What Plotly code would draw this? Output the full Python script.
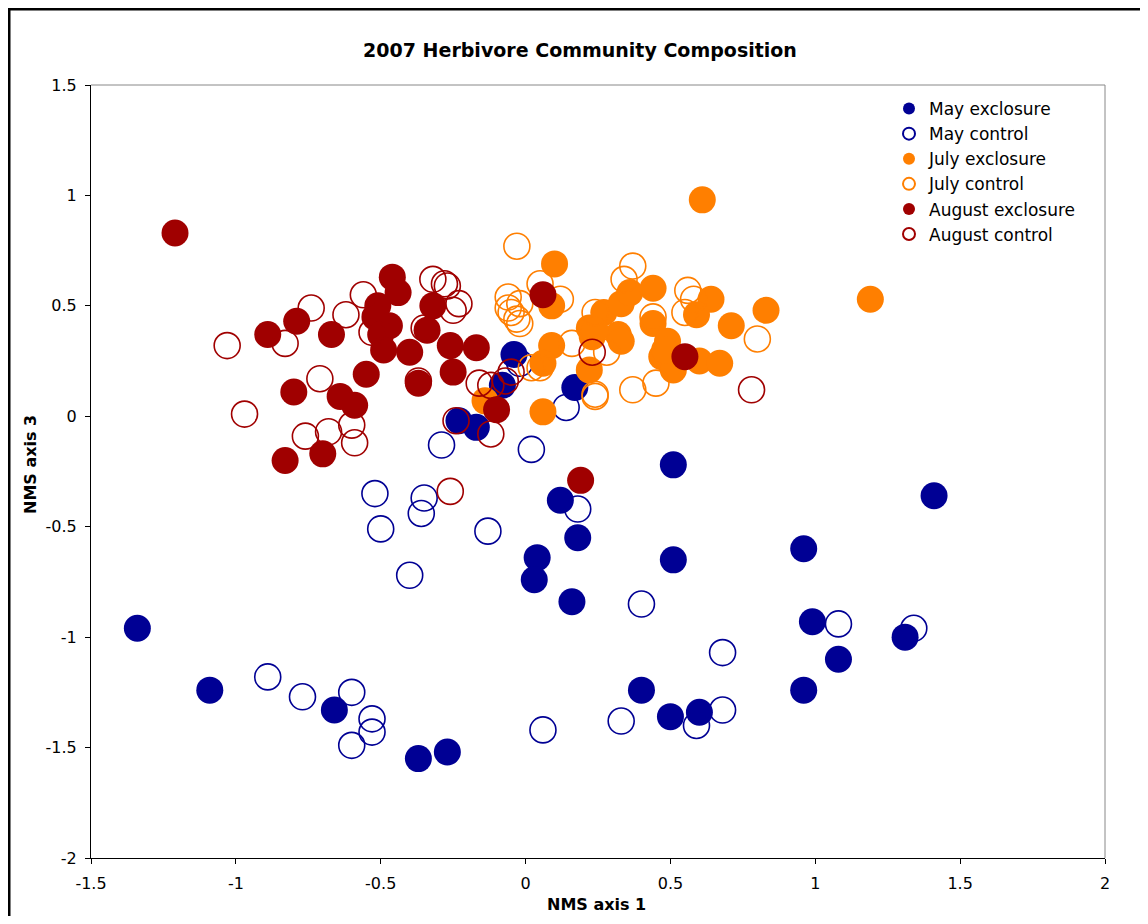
import plotly.graph_objects as go

# ---- data (NMS axis 1, NMS axis 3) ----
may_excl_x = [-1.34, -1.09, -0.66, -0.37, -0.27, -0.23, -0.17, -0.08, -0.04, 0.17, 0.12, 0.18, 0.04,
              0.03, 0.16, 0.51, 0.51, 0.96, 1.41, 0.99, 1.08, 1.31, 0.96, 0.40, 0.50, 0.60]
may_excl_y = [-0.96, -1.24, -1.33, -1.55, -1.52, -0.02, -0.05, 0.14, 0.28, 0.13, -0.38, -0.55, -0.64,
              -0.74, -0.84, -0.22, -0.65, -0.60, -0.36, -0.93, -1.10, -1.00, -1.24, -1.24, -1.36, -1.34]

may_ctrl_x = [-0.89, -0.77, -0.60, -0.53, -0.53, -0.60, -0.52, -0.35, -0.36, -0.50, -0.40, -0.13, -0.29,
              0.02, 0.14, -0.02, 0.18, 0.40, 0.68, 1.08, 1.34, 0.68, 0.59, 0.33, 0.06]
may_ctrl_y = [-1.18, -1.27, -1.25, -1.37, -1.43, -1.49, -0.35, -0.37, -0.44, -0.51, -0.72, -0.52, -0.13,
              -0.15, 0.04, 0.24, -0.42, -0.85, -1.07, -0.94, -0.96, -1.33, -1.40, -1.38, -1.42]

jul_excl_x = [0.61, 1.19, 0.10, 0.09, 0.09, 0.06, 0.06, -0.14, 0.22, 0.22, 0.27, 0.33, 0.36, 0.44,
              0.32, 0.23, 0.44, 0.49, 0.47, 0.51, 0.60, 0.67, 0.64, 0.59, 0.71, 0.83, 0.48, 0.24, 0.33]
jul_excl_y = [0.98, 0.53, 0.69, 0.50, 0.32, 0.24, 0.02, 0.07, 0.21, 0.40, 0.47, 0.51, 0.56, 0.58,
              0.37, 0.36, 0.42, 0.34, 0.27, 0.21, 0.25, 0.24, 0.53, 0.46, 0.41, 0.48, 0.30, 0.39, 0.34]

jul_ctrl_x = [-0.03, -0.06, -0.06, -0.05, -0.03, 0.05, 0.12, -0.02, 0.24, 0.16, 0.44, 0.56, 0.58,
              0.55, 0.80, 0.37, 0.45, 0.24, 0.37, 0.34, 0.05, 0.02, 0.24, 0.28, -0.02]
jul_ctrl_y = [0.77, 0.54, 0.49, 0.47, 0.44, 0.60, 0.53, 0.51, 0.47, 0.33, 0.45, 0.57, 0.53,
              0.47, 0.35, 0.12, 0.15, 0.10, 0.68, 0.62, 0.22, 0.22, 0.09, 0.29, 0.42]

aug_excl_x = [-1.21, -0.89, -0.79, -0.67, -0.46, -0.44, -0.51, -0.52, -0.47, -0.50, -0.49, -0.32, -0.34,
              -0.26, -0.17, -0.40, -0.55, -0.37, -0.25, -0.80, -0.64, -0.59, -0.10, -0.83, -0.70,
              0.06, 0.55, 0.19]
aug_excl_y = [0.83, 0.37, 0.43, 0.37, 0.63, 0.56, 0.50, 0.45, 0.41, 0.37, 0.30, 0.50, 0.39,
              0.32, 0.31, 0.29, 0.19, 0.15, 0.20, 0.11, 0.09, 0.05, 0.03, -0.20, -0.17,
              0.55, 0.27, -0.29]

aug_ctrl_x = [-1.03, -0.97, -0.83, -0.74, -0.71, -0.76, -0.68, -0.60, -0.59, -0.62, -0.56, -0.53, -0.35,
              -0.32, -0.27, -0.25, -0.37, -0.26, -0.24, -0.12, -0.16, -0.12, -0.07, -0.05, 0.23, 0.78,
              -0.28, -0.23]
aug_ctrl_y = [0.32, 0.01, 0.33, 0.49, 0.17, -0.09, -0.07, -0.04, -0.12, 0.46, 0.55, 0.38, 0.40,
              0.62, 0.59, 0.48, 0.16, -0.34, -0.02, -0.08, 0.15, 0.14, 0.16, 0.20, 0.29, 0.12,
              0.60, 0.51]

x_ticks = [-1.5, -1, -0.5, 0, 0.5, 1, 1.5, 2]
x_labels = ["-1.5", "-1", "-0.5", "0", "0.5", "1", "1.5", "2"]
y_ticks = [-2, -1.5, -1, -0.5, 0, 0.5, 1, 1.5]
y_labels = ["-2", "-1.5", "-1", "-0.5", "0", "0.5", "1", "1.5"]

NAVY = "#000094"
ORANGE = "#FF7F00"
RED = "#A00000"

fig = go.Figure()

def add(x, y, name, color, filled):
    if filled:
        marker = dict(symbol="circle", size=27, color=color, line=dict(width=0))
    else:
        marker = dict(symbol="circle-open", size=26, color=color, line=dict(width=1.6, color=color))
    fig.add_trace(go.Scatter(x=x, y=y, mode="markers", name=name, marker=marker))

add(may_excl_x, may_excl_y, "May exclosure", NAVY, True)
add(may_ctrl_x, may_ctrl_y, "May control", NAVY, False)
add(jul_excl_x, jul_excl_y, "July exclosure", ORANGE, True)
add(jul_ctrl_x, jul_ctrl_y, "July control", ORANGE, False)
add(aug_excl_x, aug_excl_y, "August exclosure", RED, True)
add(aug_ctrl_x, aug_ctrl_y, "August control", RED, False)

# figure sits inside the page with an 8px body margin
OFF = 8
W, H = 1132, 908
L, T = 91 - OFF, 85 - OFF
pw, ph = 1014, 773
R, B = W - L - pw, H - T - ph

def px(xp):  # page pixel -> paper x
    return (xp - OFF - L) / pw

def py(yp):  # page pixel -> paper y
    return (H - B - (yp - OFF)) / ph

font = "DejaVu Sans, Verdana, sans-serif"

fig.update_layout(
    width=W, height=H,
    margin=dict(l=L, r=R, t=T, b=B),
    paper_bgcolor="white", plot_bgcolor="white",
    font=dict(family=font, size=16, color="black"),
    title=dict(text="<b>2007 Herbivore Community Composition</b>",
               x=px(580), xanchor="center", xref="paper",
               y=1 - (50 - OFF) / H, yanchor="middle",
               font=dict(size=19, family=font)),
    showlegend=True,
    legend=dict(x=px(889), y=py(91), xanchor="left", yanchor="top",
                bgcolor="rgba(0,0,0,0)", borderwidth=0,
                font=dict(size=17, family=font), itemsizing="constant",
                tracegroupgap=0, itemwidth=30),
    xaxis=dict(range=[-1.5, 2], tickvals=x_ticks, ticktext=x_labels,
               showgrid=False, zeroline=False, showline=True, linecolor="black", linewidth=1,
               ticks="outside", ticklen=5, tickcolor="black", ticklabelstandoff=6,
               tickfont=dict(size=16)),
    yaxis=dict(range=[-2, 1.5], tickvals=y_ticks, ticktext=y_labels,
               showgrid=False, zeroline=False, showline=True, linecolor="black", linewidth=1,
               ticks="outside", ticklen=5, tickcolor="black", ticklabelstandoff=5,
               tickfont=dict(size=16)),
    annotations=[
        dict(text="<b>NMS axis 1</b>", xref="paper", yref="paper", x=px(596), y=py(905),
             xanchor="center", yanchor="middle", showarrow=False, font=dict(size=16)),
        dict(text="<b>NMS axis 3</b>", xref="paper", yref="paper", x=px(30), y=py(465),
             xanchor="center", yanchor="middle", showarrow=False, textangle=-90,
             font=dict(size=16)),
    ],
    shapes=[
        # gray plot frame (top / right)
        dict(type="line", xref="paper", yref="paper", x0=0, x1=1, y0=1, y1=1,
             line=dict(color="#888888", width=1)),
        dict(type="line", xref="paper", yref="paper", x0=1, x1=1, y0=0, y1=1,
             line=dict(color="#888888", width=1)),
        # outer black figure border
        dict(type="line", xref="paper", yref="paper", x0=px(8), x1=px(1148), y0=py(9), y1=py(9),
             line=dict(color="black", width=3)),
        dict(type="line", xref="paper", yref="paper", x0=px(9), x1=px(9), y0=py(8), y1=py(930),
             line=dict(color="black", width=3)),
    ],
)

fig.write_html("out.html")
